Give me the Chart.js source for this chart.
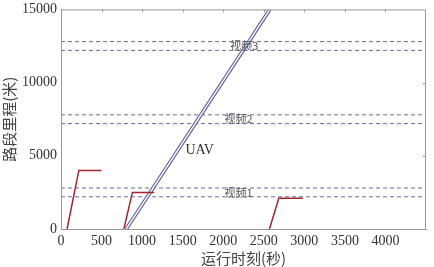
<!DOCTYPE html>
<html>
<head>
<meta charset="utf-8">
<script src="https://cdn.jsdelivr.net/npm/chart.js@4/dist/chart.umd.min.js"></script>
<style>
  html, body { margin: 0; padding: 0; background: #fff; }
  #wrap { width: 434px; height: 267px; }
</style>
</head>
<body>
<div id="wrap"><canvas id="mycanvas"></canvas></div>
<script>
// vehicle trajectories (time s, distance m)
var car1X = [75, 220, 500];
var car1Y = [0, 4000, 4000];
var car2X = [775, 880, 1150];
var car2Y = [0, 2500, 2500];
var car3X = [2570, 2685, 2980];
var car3Y = [0, 2100, 2100];
// UAV path
var uavX = [805, 2575];
var uavY = [0, 15000];
// camera coverage bounds
var camNames = ['视频1', '视频2', '视频3'];
var camLow = [2200, 7200, 12200];
var camHigh = [2800, 7800, 12800];
var camLabelX = [2190, 2190, 2260];

var xMin = 0, xMax = 4500;
var yMin = 0, yMax = 15000;

function pts(xs, ys) {
    var out = [];
    for (var i = 0; i < xs.length; i++) out.push({x: xs[i], y: ys[i]});
    return out;
}

var red = '#a3262e';
var dashCol = 'rgba(80,80,150,0.85)';

// first dataset is drawn on top in Chart.js
var datasets = [];
[[car1X, car1Y], [car2X, car2Y], [car3X, car3Y]].forEach(function (c) {
    datasets.push({ data: pts(c[0], c[1]), borderColor: red, borderWidth: 1.5, pointRadius: 0, showLine: true });
});
datasets.push({ data: pts(uavX, uavY), borderColor: '#ffffff', borderWidth: 1.4, pointRadius: 0, showLine: true });
datasets.push({ data: pts(uavX, uavY), borderColor: '#5a5aa8', borderWidth: 3.6, pointRadius: 0, showLine: true });
for (var i = 0; i < camNames.length; i++) {
    [camLow[i], camHigh[i]].forEach(function (v) {
        datasets.push({
            data: pts([xMin, xMax], [v, v]),
            borderColor: dashCol, borderWidth: 1, borderDash: [4, 3],
            pointRadius: 0, showLine: true
        });
    });
}

var tickFont = { family: '"Liberation Serif", "DejaVu Serif", serif', size: 14 };

var framePlugin = {
    id: 'frame',
    afterDatasetsDraw: function (chart) {
        var ctx = chart.ctx, a = chart.chartArea;
        var xs = chart.scales.x, ys = chart.scales.y;
        ctx.save();
        // labels
        ctx.textAlign = 'center';
        ctx.textBaseline = 'middle';
        ctx.fillStyle = '#555';
        ctx.font = '11px "Noto Sans CJK SC", sans-serif';
        for (var i = 0; i < camNames.length; i++) {
            var yy = ys.getPixelForValue((camLow[i] + camHigh[i]) / 2);
            ctx.fillText(camNames[i], xs.getPixelForValue(camLabelX[i]), yy);
        }
        ctx.fillStyle = '#333';
        ctx.font = '14px "Liberation Serif", serif';
        ctx.fillText('UAV', xs.getPixelForValue(1710), ys.getPixelForValue(5400));
        // frame
        ctx.strokeStyle = '#999';
        ctx.lineWidth = 1;
        ctx.strokeRect(a.left + 0.5, a.top + 0.5, a.right - a.left - 1, a.bottom - a.top);
        // tick marks on top and right (inside)
        ctx.beginPath();
        for (var t = 500; t < xMax; t += 500) {
            var px = Math.round(xs.getPixelForValue(t)) + 0.5;
            ctx.moveTo(px, a.top); ctx.lineTo(px, a.top + 3);
        }
        for (var v = 5000; v < yMax; v += 5000) {
            var py = Math.round(ys.getPixelForValue(v)) + 0.5;
            ctx.moveTo(a.right, py); ctx.lineTo(a.right - 3, py);
        }
        ctx.stroke();
        ctx.restore();
    }
};

new Chart(document.getElementById('mycanvas'), {
    type: 'scatter',
    data: { datasets: datasets },
    options: {
        responsive: true,
        maintainAspectRatio: false,
        animation: false,
        layout: { padding: { top: 8, right: 8, left: 0, bottom: 0 } },
        plugins: { legend: { display: false }, tooltip: { enabled: false } },
        scales: {
            x: {
                type: 'linear', min: xMin, max: xMax,
                grid: { display: false, drawTicks: true, tickLength: 3, tickColor: '#999' },
                border: { color: '#999' },
                ticks: {
                    stepSize: 500, color: '#333', font: tickFont, padding: 1, maxRotation: 0,
                    callback: function (v) { return v >= xMax ? '' : String(v); }
                },
                title: { display: true, text: '运行时刻(秒)', color: '#444', padding: 0,
                         font: { family: '"Noto Sans CJK SC", sans-serif', size: 15 } },
                afterFit: function (s) { s.height = 38; }
            },
            y: {
                type: 'linear', min: yMin, max: yMax,
                grid: { display: false, drawTicks: true, tickLength: 3, tickColor: '#999' },
                border: { color: '#999' },
                ticks: { stepSize: 5000, color: '#333', font: tickFont, padding: 1,
                         callback: function (v) { return String(v); } },
                title: { display: true, text: '路段里程(米)', color: '#444', padding: 0,
                         font: { family: '"Noto Sans CJK SC", sans-serif', size: 15 } },
                afterFit: function (s) { s.width = 61; }
            }
        }
    },
    plugins: [framePlugin]
});
</script>
</body>
</html>
